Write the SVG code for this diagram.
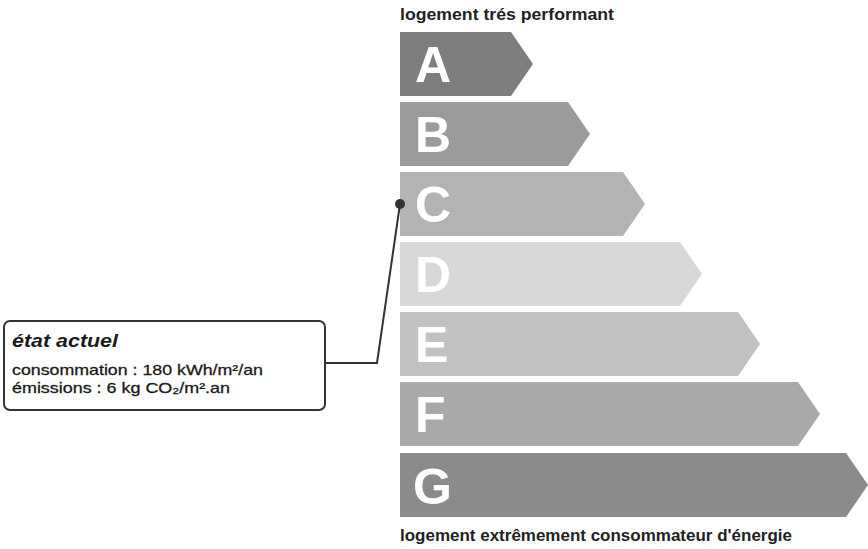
<svg xmlns="http://www.w3.org/2000/svg" width="868" height="549" viewBox="0 0 868 549">
<style>
.bar{stroke:none}
.letter{font-family:"Liberation Sans",Arial,sans-serif;font-weight:bold;font-size:50px;fill:#ffffff}
.title{font-family:"Liberation Sans",Arial,sans-serif;font-weight:bold;font-size:16px;fill:#222222}
.head{font-family:"Liberation Sans",Arial,sans-serif;font-weight:bold;font-style:italic;font-size:18px;fill:#1a1a1a}
.info{font-family:"Liberation Sans",Arial,sans-serif;font-size:15px;fill:#1a1a1a;stroke:#1a1a1a;stroke-width:0.3}
.conn{fill:none;stroke:#333333;stroke-width:2}
</style>
<rect width="868" height="549" fill="#ffffff"/>
<text class="title" x="400" y="20" textLength="214" lengthAdjust="spacingAndGlyphs">logement trés performant</text>
<g id="bar-A"><polygon class="bar" fill="#7e7e7e" points="400,32 511,32 533,64 511,96 400,96"/><text class="letter" x="415" y="82">A</text></g>
<g id="bar-B"><polygon class="bar" fill="#9b9b9b" points="400,102 568,102 590,134 568,166 400,166"/><text class="letter" x="415" y="152">B</text></g>
<g id="bar-C"><polygon class="bar" fill="#b3b3b3" points="400,172 623,172 645,204 623,236 400,236"/><text class="letter" x="415" y="222">C</text></g>
<g id="bar-D"><polygon class="bar" fill="#d8d8d8" points="400,242 680,242 702,274 680,306 400,306"/><text class="letter" x="415" y="292">D</text></g>
<g id="bar-E"><polygon class="bar" fill="#c2c2c2" points="400,312 738,312 760,344 738,376 400,376"/><text class="letter" x="415" y="362">E</text></g>
<g id="bar-F"><polygon class="bar" fill="#a9a9a9" points="400,382 798,382 820,414 798,446 400,446"/><text class="letter" x="415" y="432">F</text></g>
<g id="bar-G"><polygon class="bar" fill="#8b8b8b" points="400,453 846,453 868,485 846,517 400,517"/><text class="letter" x="413" y="504">G</text></g>
<text class="title" x="400" y="541" textLength="392" lengthAdjust="spacingAndGlyphs">logement extrêmement consommateur d'énergie</text>
<g id="connectors">
<polyline class="conn" points="325,363 377,363 400,204"/>
<circle cx="400" cy="204" r="5" fill="#333333"/>
</g>
<g id="etat-actuel">
<rect x="4" y="321" width="321" height="89" rx="6" ry="6" fill="#ffffff" stroke="#333333" stroke-width="2"/>
<text class="head" x="12" y="347" textLength="106" lengthAdjust="spacingAndGlyphs">état actuel</text>
<text class="info" x="12" y="375" textLength="251" lengthAdjust="spacingAndGlyphs">consommation : 180 kWh/m²/an</text>
<text class="info" x="12" y="393" textLength="218" lengthAdjust="spacingAndGlyphs">émissions : 6 kg CO₂/m².an</text>
</g>
</svg>
